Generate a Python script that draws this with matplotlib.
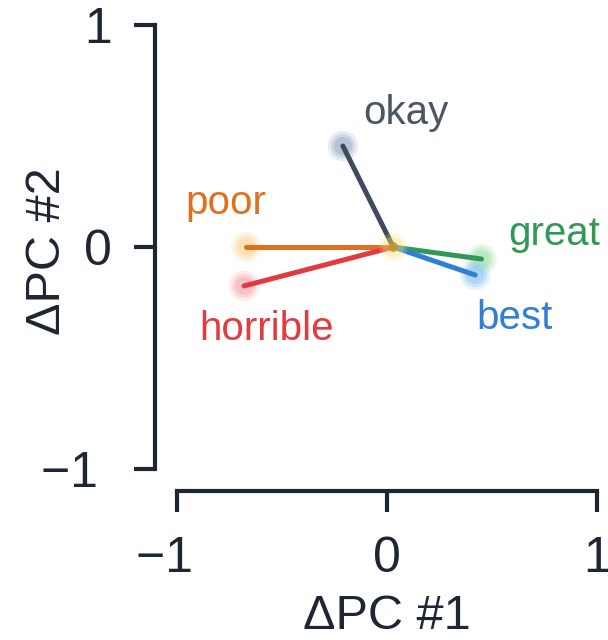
import matplotlib
matplotlib.use("Agg")
import matplotlib.pyplot as plt

plt.rcParams["font.family"] = ["Liberation Sans", "DejaVu Sans"]

# Shift vectors in PC space, each drawn from a common origin
origin = (0.03, 0.0)
words = ["okay", "poor", "horrible", "great", "best"]
dx = [-0.21, -0.67, -0.68, 0.45, 0.42]
dy = [0.455, 0.0, -0.175, -0.054, -0.126]

line_colors = ["#3f4a5c", "#e07020", "#e23a3e", "#2f9a57", "#2f7fd8"]
glow_colors = ["#9aabc4", "#fbd59a", "#f7a9b0", "#9fe0a8", "#8fc4f5"]
label_colors = ["#4b5563", "#e07020", "#e23a3e", "#2f9a57", "#2f7fd8"]
# label offsets (points) relative to each vector tip
label_offsets = [(45, 24), (-15, 32), (16, -31), (52, 18), (28, -31)]

tick_vals = [-1, 0, 1]
tick_labels = ["\u22121", "0", "1"]
axis_color = "#1f2633"

fig = plt.figure(figsize=(6.08, 6.4), dpi=100)
ax = fig.add_axes([0.291, 0.267, 0.691, 0.694])
ax.set_xlim(-1, 1)
ax.set_ylim(-1, 1)

ox, oy = origin
for x, y, gc in zip(dx, dy, glow_colors):
    for s, a in [(480, 0.22), (300, 0.32), (170, 0.45)]:
        ax.scatter([x], [y], s=s, color=gc, alpha=a, edgecolors="none",
                   zorder=2, clip_on=False)

for x, y, lc in zip(dx, dy, line_colors):
    ax.plot([ox, x], [oy, y], color=lc, lw=3.6, solid_capstyle="round",
            zorder=3)

for s, a in [(420, 0.2), (240, 0.3)]:
    ax.scatter([ox], [oy], s=s, color="#f7e27a", alpha=a, edgecolors="none",
               zorder=4)
ax.scatter([ox], [oy], s=50, color="#c89428", alpha=0.85, edgecolors="none",
           zorder=5)

for w, x, y, c, off in zip(words, dx, dy, label_colors, label_offsets):
    ax.annotate(w, (x, y), xytext=off, textcoords="offset points",
                ha="center", va="center", fontsize=29, color=c)

for side in ["top", "right"]:
    ax.spines[side].set_visible(False)
for side in ["left", "bottom"]:
    ax.spines[side].set_position(("outward", 16))
    ax.spines[side].set_color(axis_color)
    ax.spines[side].set_linewidth(3)
    ax.spines[side].set_capstyle("projecting")
ax.spines["left"].set_bounds(-1, 1)
ax.spines["bottom"].set_bounds(-1, 1)

# negative labels carry a trailing space so the digit sits near the tick
def padded(labels, pad):
    return [t + pad if t.startswith("\u2212") else t for t in labels]

ax.set_xticks(tick_vals)
ax.set_xticklabels(padded(tick_labels, "\u2002"))
ax.set_yticks(tick_vals)
ax.set_yticklabels(padded(tick_labels, " "))
ax.tick_params(axis="both", length=15, width=3, color=axis_color,
               labelsize=36, labelcolor=axis_color)
ax.tick_params(axis="x", pad=17)
ax.tick_params(axis="y", pad=16)

ax.set_xlabel("\u0394PC #1", fontsize=35, color=axis_color, labelpad=9)
ax.set_ylabel("\u0394PC #2", fontsize=35, color=axis_color)
ax.yaxis.set_label_coords(0.115, 0.608, transform=fig.transFigure)

fig.savefig("out.png", dpi=100, facecolor="white")
